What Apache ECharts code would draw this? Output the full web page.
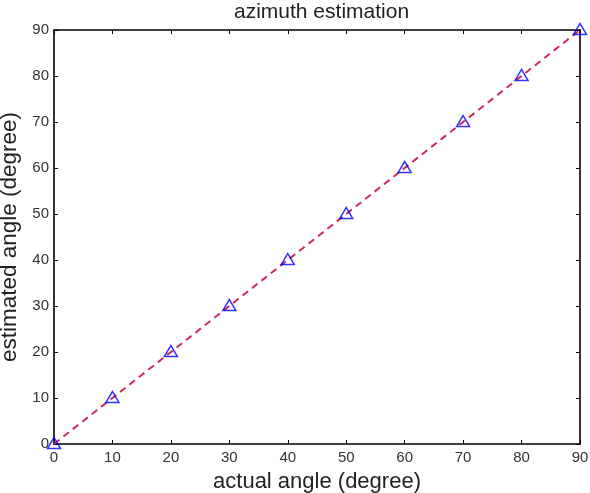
<!DOCTYPE html>
<html><head><meta charset="utf-8">
<script src="https://cdn.jsdelivr.net/npm/echarts@6/dist/echarts.min.js"></script>
<style>html,body{margin:0;padding:0;background:#fff}#c{width:590px;height:493px}</style>
</head><body><div id="c"></div>
<script>
var actualAngles = [0, 10, 20, 30, 40, 50, 60, 70, 80, 90];
var estimatedAngles = [0, 10, 20, 30, 40, 50, 60, 70, 80, 90];
var lineX = [0, 90];
var lineY = [0, 90];
var tickValues = [0, 10, 20, 30, 40, 50, 60, 70, 80, 90];

var font = '"Liberation Sans", Arial, sans-serif';
var chart = echarts.init(document.getElementById('c'));
var axisCommon = {
  type: 'value', min: 0, max: 90, interval: 10,
  axisLine: {show: true, onZero: false, lineStyle: {color: '#000', width: 1.6}},
  axisTick: {show: true, inside: true, length: 4, lineStyle: {color: '#000', width: 1}},
  splitLine: {show: false}
};
chart.setOption({
  animation: false,
  title: {text: 'azimuth estimation', left: 229, top: -3,
    textStyle: {fontFamily: font, fontSize: 21, fontWeight: 'normal', color: '#222'}},
  grid: {left: 54, right: 10, top: 30, bottom: 49, containLabel: false, outerBoundsMode: 'none'},
  xAxis: [
    Object.assign({}, axisCommon, {position: 'bottom',
      name: 'actual angle (degree)', nameLocation: 'middle', nameGap: 27,
      nameTextStyle: {fontFamily: font, fontSize: 22, color: '#222'},
      axisLabel: {fontFamily: font, fontSize: 15, color: '#333', margin: 6,
        formatter: function (v) { return tickValues.indexOf(v) >= 0 ? String(v) : ''; }}}),
    Object.assign({}, axisCommon, {position: 'top', axisLabel: {show: false}})
  ],
  yAxis: [
    Object.assign({}, axisCommon, {position: 'left',
      name: 'estimated angle (degree)', nameLocation: 'middle', nameGap: 29,
      nameTextStyle: {fontFamily: font, fontSize: 22.5, color: '#222'},
      axisLabel: {fontFamily: font, fontSize: 15, color: '#333', margin: 5}}),
    Object.assign({}, axisCommon, {position: 'right', axisLabel: {show: false}})
  ],
  series: [
    {type: 'line', data: lineX.map(function (x, i) { return [x, lineY[i]]; }),
      symbol: 'none', lineStyle: {color: '#cc2a5c', width: 2, type: [7, 5]}, z: 2},
    {type: 'scatter', data: actualAngles.map(function (x, i) { return [x, estimatedAngles[i]]; }),
      symbol: 'triangle', symbolSize: [13, 11], symbolOffset: [0, -1],
      itemStyle: {color: 'rgba(0,0,0,0)', borderColor: '#0000ff', borderWidth: 1.5}, z: 3}
  ]
});
</script></body></html>
